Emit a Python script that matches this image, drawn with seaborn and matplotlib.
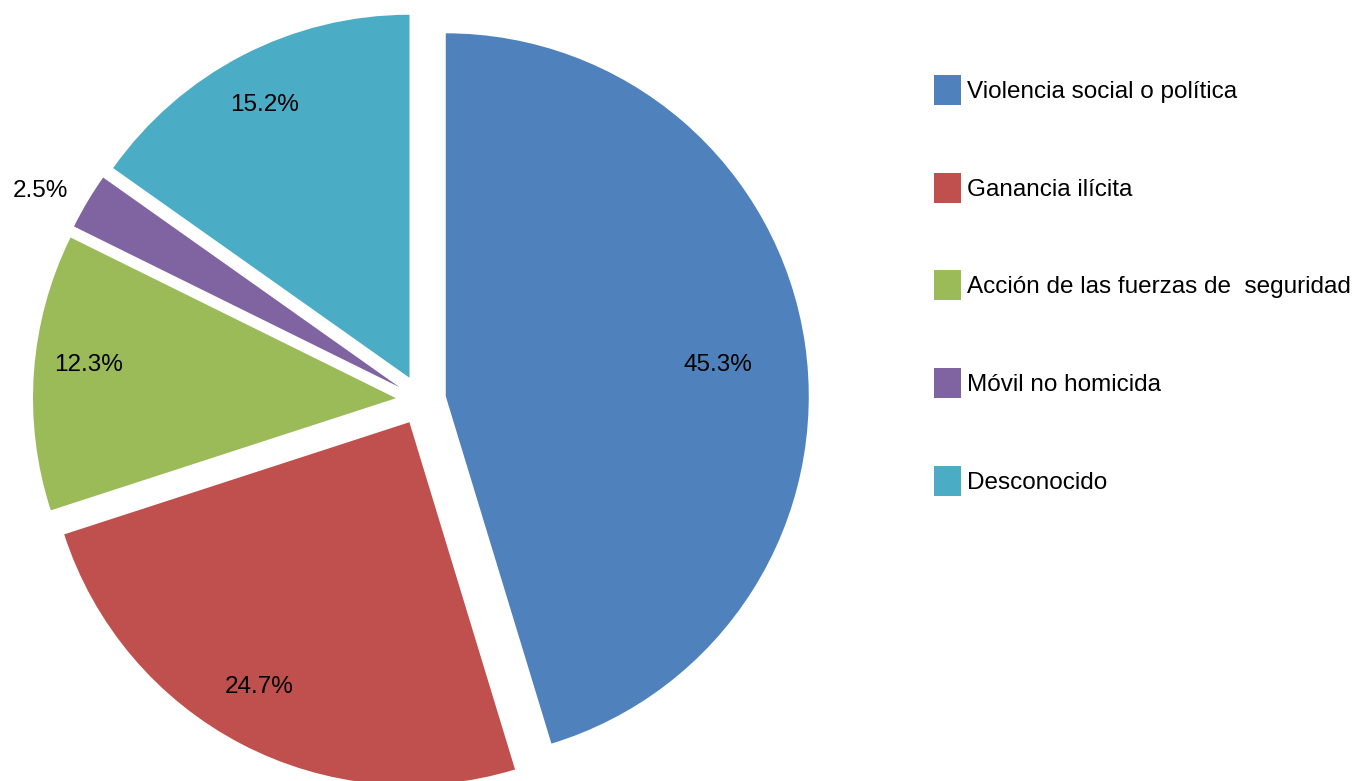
import matplotlib
matplotlib.use("Agg")
import matplotlib.pyplot as plt
import seaborn as sns
import numpy as np
from matplotlib.patches import Patch

# data
categories = [
    "Violencia social o política",
    "Ganancia ilícita",
    "Acción de las fuerzas de  seguridad",
    "Móvil no homicida",
    "Desconocido",
]
shares = [45.3, 24.7, 12.3, 2.5, 15.2]
colors = ["#4F81BD", "#C0504D", "#9BBB59", "#8064A2", "#4BACC6"]

# label placement per slice (Excel puts them unevenly): distance in radii, angle tweak in degrees
label_dist = [0.756, 0.832, 0.852, 1.131, 0.858]
label_turn = [-1.3, -2.3, -2.4, 1.9, 0.4]

sns.set_theme(style="white", rc={"text.color": "black"})
plt.rcParams["font.family"] = ["Liberation Sans", "DejaVu Sans"]

W, H = 1361, 781
fig = plt.figure(figsize=(W / 100, H / 100), dpi=100)
ax = fig.add_axes([0, 0, 1, 1])

R = 363          # pie radius in pixels
cx, cy = 421, H - 400   # pie centre in pixels

wedges, _ = ax.pie(shares, colors=colors, startangle=90, counterclock=False,
                   explode=[0.069] * len(shares), radius=1,
                   wedgeprops=dict(linewidth=0))
ax.set_xlim(-cx / R, (W - cx) / R)
ax.set_ylim(-cy / R, (H - cy) / R)
ax.set_aspect("equal")
ax.axis("off")

for w, d, t, v in zip(wedges, label_dist, label_turn, shares):
    th = np.deg2rad((w.theta1 + w.theta2) / 2 + t)
    x = w.center[0] + d * w.r * np.cos(th)
    y = w.center[1] + d * w.r * np.sin(th)
    ax.text(x, y, f"{v:.1f}%", ha="center", va="center_baseline",
            fontsize=17.5, color="black")

handles = [Patch(facecolor=c, edgecolor="none") for c in colors]
fig.legend(handles, categories, loc="upper left",
           bbox_to_anchor=(934 / W, 1 - 75 / H), frameon=False,
           fontsize=17.5, handlelength=1.11, handleheight=1.515,
           handletextpad=0.243, labelspacing=2.79, borderpad=0, borderaxespad=0)

fig.savefig("out.png", dpi=100)
